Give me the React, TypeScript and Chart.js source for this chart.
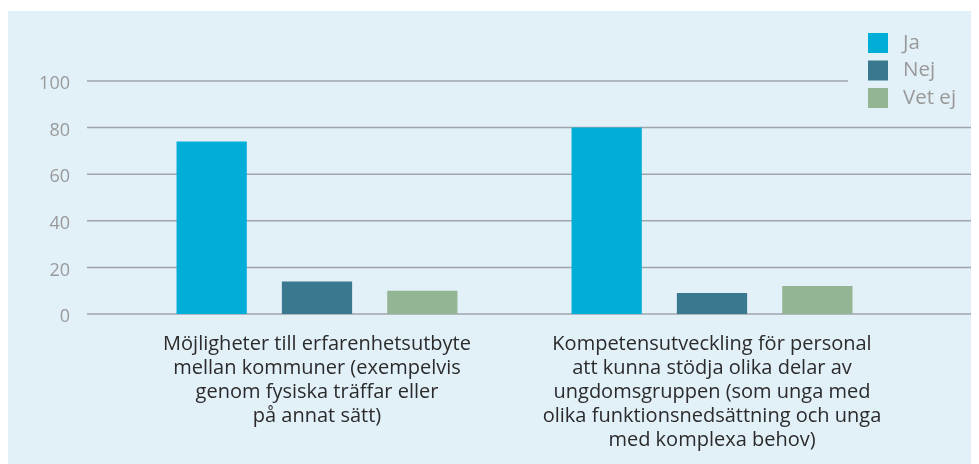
import React, { useEffect, useRef } from "react";
import { Chart, registerables } from "chart.js";

Chart.register(...registerables);

const categories: string[][] = [
  [
    "Möjligheter till erfarenhetsutbyte",
    "mellan kommuner (exempelvis",
    "genom fysiska träffar eller",
    "på annat sätt)",
  ],
  [
    "Kompetensutveckling för personal",
    "att kunna stödja olika delar av",
    "ungdomsgruppen (som unga med",
    "olika funktionsnedsättning och unga",
    "med komplexa behov)",
  ],
];
const seriesNames = ["Ja", "Nej", "Vet ej"];
const jaValues = [74, 80];
const nejValues = [14, 9];
const vetEjValues = [10, 12];
const yTicks = [0, 20, 40, 60, 80, 100];
const seriesColors = ["#00aed8", "#3a788f", "#93b593"];

const FONT = "'Open Sans'";

const gridPlugin = {
  id: "extGrid",
  beforeDatasetsDraw(chart: any) {
    const { ctx } = chart;
    const y = chart.scales.y;
    ctx.save();
    ctx.strokeStyle = "#9fa5ab";
    ctx.lineWidth = 1.5;
    yTicks.forEach((v) => {
      const py = y.getPixelForValue(v);
      const xEnd = v === 100 ? 840 : chart.width;
      ctx.beginPath();
      ctx.moveTo(79, py);
      ctx.lineTo(xEnd, py);
      ctx.stroke();
    });
    ctx.restore();
  },
};

const legendPlugin = {
  id: "customLegend",
  afterDraw(chart: any) {
    const { ctx } = chart;
    ctx.save();
    ctx.font = `20.5px ${FONT}`;
    ctx.textBaseline = "middle";
    ctx.textAlign = "left";
    seriesNames.forEach((name, i) => {
      const top = 22 + i * 27.5;
      ctx.fillStyle = seriesColors[i];
      ctx.fillRect(860, top, 20, 20);
      ctx.fillStyle = "#999999";
      ctx.fillText(name, 895, top + 10);
    });
    ctx.restore();
  },
};

export default function App() {
  const canvasRef = useRef<HTMLCanvasElement | null>(null);

  useEffect(() => {
    if (!canvasRef.current) return;
    const chart = new Chart(canvasRef.current, {
      type: "bar",
      data: {
        labels: categories,
        datasets: [
          { label: seriesNames[0], data: jaValues, backgroundColor: seriesColors[0] },
          { label: seriesNames[1], data: nejValues, backgroundColor: seriesColors[1] },
          { label: seriesNames[2], data: vetEjValues, backgroundColor: seriesColors[2] },
        ],
      },
      options: {
        animation: false,
        responsive: true,
        maintainAspectRatio: false,
        datasets: {
          bar: { categoryPercentage: 0.8, barPercentage: 0.667 },
        },
        layout: { padding: { left: 0, right: 69.5, top: 70, bottom: 0 } },
        plugins: {
          legend: { display: false },
          tooltip: { enabled: false },
        },
        scales: {
          x: {
            grid: { display: false, drawTicks: false },
            border: { display: false },
            ticks: {
              color: "#2b2b2b",
              font: { family: FONT, size: 20, lineHeight: "24px" },
              padding: 18,
              maxRotation: 0,
              autoSkip: false,
            },
            afterFit(scale: any) {
              scale.height = 150;
            },
          },
          y: {
            min: 0,
            max: 100,
            grid: { display: false, drawTicks: false },
            border: { display: false },
            ticks: {
              stepSize: 20,
              color: "#999999",
              font: { family: FONT, size: 18 },
              padding: 49.5,
              labelOffset: 3,
            },
            afterFit(scale: any) {
              scale.width = 111.5;
            },
          },
        },
      },
      plugins: [gridPlugin, legendPlugin],
    });
    return () => chart.destroy();
  }, []);

  return (
    <div style={{ width: 971, height: 453, marginTop: 3, background: "#e2f0f8" }}>
      <canvas ref={canvasRef} />
    </div>
  );
}
